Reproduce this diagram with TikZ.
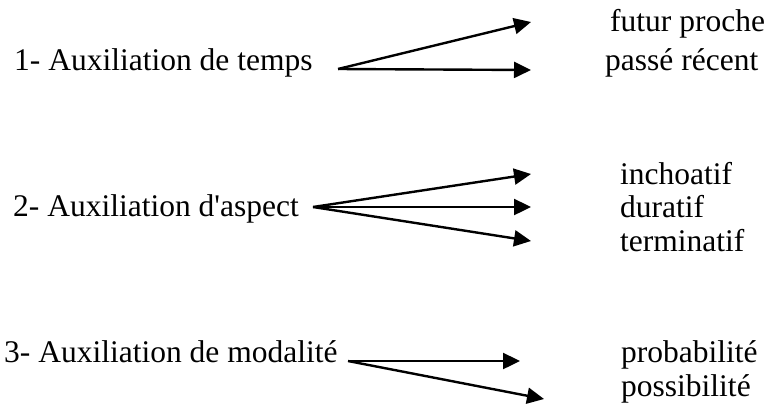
\documentclass[tikz,border=0pt]{standalone}
\usepackage{fontspec}
\setmainfont{Liberation Serif}
\usetikzlibrary{arrows.meta}
\begin{document}
\begin{tikzpicture}[x=1pt,y=-1pt,
  lbl/.style={anchor=base west,inner sep=0pt,font=\fontsize{31.5}{36}\selectfont},
  arr/.style={line width=2.4pt,-{Triangle[length=17pt,width=16pt]}}]
\useasboundingbox (0,0) rectangle (775,405);
% row 1
\node[lbl] (t1) at (14,70) {1- Auxiliation de temps};
\node[lbl] (r1a) at (610,31) {futur proche};
\node[lbl] (r1b) at (605,70) {passé récent};
\coordinate (o1) at (338,69);
\coordinate (e1a) at (531,22);
\coordinate (e1b) at (531,70);
\draw[arr] (o1) -- (e1a);
\draw[arr] (o1) -- (e1b);
% row 2
\node[lbl] (t2) at (13,216) {2- Auxiliation d\textquotesingle aspect};
\node[lbl] (r2a) at (620,184) {inchoatif};
\node[lbl] (r2b) at (620,217) {duratif};
\node[lbl] (r2c) at (620,251) {terminatif};
\coordinate (o2) at (313,207);
\coordinate (e2a) at (531,174);
\coordinate (e2b) at (531,207);
\coordinate (e2c) at (531,241);
\draw[arr] (o2) -- (e2a);
\draw[arr] (o2) -- (e2b);
\draw[arr] (o2) -- (e2c);
% row 3
\node[lbl] (t3) at (4,362) {3- Auxiliation de modalité};
\node[lbl] (r3a) at (621,362) {probabilité};
\node[lbl] (r3b) at (621,396) {possibilité};
\coordinate (o3) at (348,361);
\coordinate (e3a) at (520,361);
\coordinate (e3b) at (544,399);
\draw[arr] (o3) -- (e3a);
\draw[arr] (o3) -- (e3b);
\end{tikzpicture}
\end{document}
